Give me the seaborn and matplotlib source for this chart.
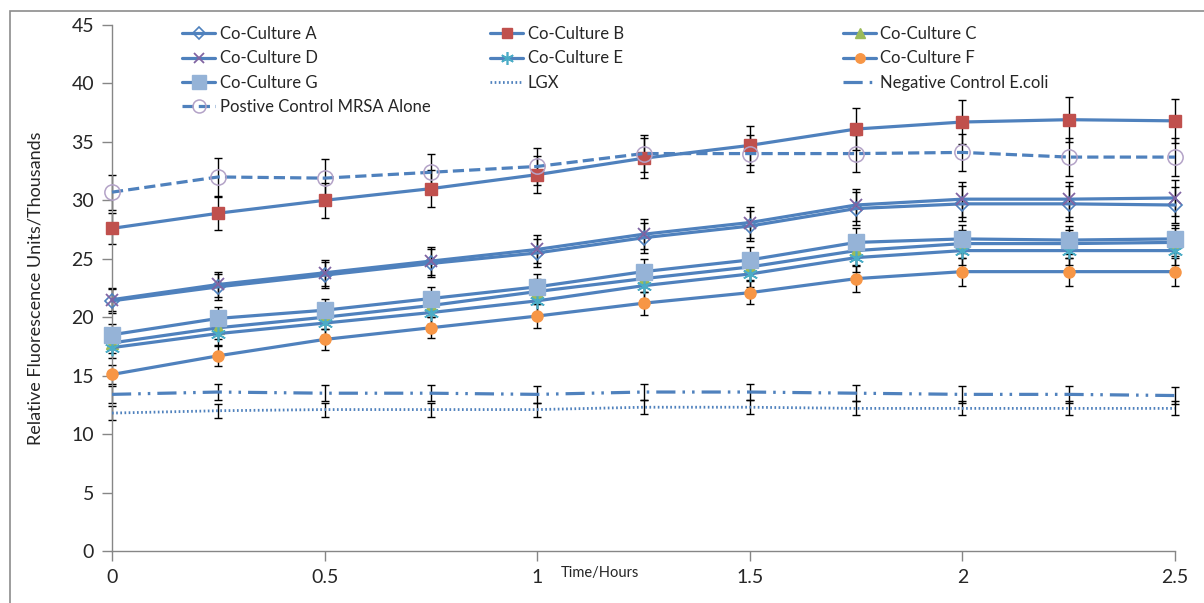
import numpy as np
import pandas as pd
import matplotlib
matplotlib.use("Agg")
import matplotlib.pyplot as plt
import seaborn as sns
from matplotlib.lines import Line2D
from matplotlib.patches import Rectangle

# ---------------- data ----------------
time = [0, 0.25, 0.5, 0.75, 1, 1.25, 1.5, 1.75, 2, 2.25, 2.5]

cc_a = [21.4, 22.6, 23.6, 24.6, 25.5, 26.8, 27.8, 29.3, 29.7, 29.7, 29.6]
cc_b = [27.6, 28.9, 30.0, 31.0, 32.2, 33.6, 34.7, 36.1, 36.7, 36.9, 36.8]
cc_c = [17.8, 19.1, 20.0, 21.0, 22.2, 23.3, 24.3, 25.7, 26.3, 26.3, 26.4]
cc_d = [21.5, 22.8, 23.8, 24.8, 25.8, 27.1, 28.1, 29.6, 30.1, 30.1, 30.2]
cc_e = [17.4, 18.6, 19.5, 20.4, 21.4, 22.7, 23.7, 25.1, 25.7, 25.7, 25.7]
cc_f = [15.1, 16.7, 18.1, 19.1, 20.1, 21.2, 22.1, 23.3, 23.9, 23.9, 23.9]
cc_g = [18.5, 19.9, 20.6, 21.6, 22.6, 23.9, 24.9, 26.4, 26.7, 26.6, 26.7]
lgx = [11.8, 12.0, 12.1, 12.1, 12.1, 12.3, 12.3, 12.2, 12.2, 12.2, 12.2]
neg = [13.4, 13.6, 13.5, 13.5, 13.4, 13.6, 13.6, 13.5, 13.4, 13.4, 13.3]
mrsa = [30.7, 32.0, 31.9, 32.4, 32.9, 34.0, 34.0, 34.0, 34.1, 33.7, 33.7]

err_a = [1.0, 1.1, 1.1, 1.2, 1.2, 1.3, 1.3, 1.4, 1.5, 1.5, 1.5]
err_b = [1.3, 1.4, 1.5, 1.6, 1.6, 1.7, 1.7, 1.8, 1.9, 1.9, 1.9]
err_c = [0.9, 1.0, 1.0, 1.0, 1.1, 1.1, 1.1, 1.2, 1.2, 1.2, 1.2]
err_d = [1.0, 1.1, 1.1, 1.2, 1.2, 1.3, 1.3, 1.4, 1.5, 1.5, 1.5]
err_e = [0.9, 1.0, 1.0, 1.0, 1.1, 1.1, 1.1, 1.2, 1.2, 1.2, 1.2]
err_f = [0.8, 0.85, 0.9, 0.9, 1.0, 1.0, 1.0, 1.1, 1.2, 1.2, 1.2]
err_g = [0.9, 1.0, 1.0, 1.0, 1.1, 1.1, 1.1, 1.2, 1.2, 1.2, 1.2]
err_lgx = [0.6, 0.6, 0.6, 0.6, 0.6, 0.6, 0.6, 0.6, 0.6, 0.6, 0.6]
err_neg = [0.7, 0.7, 0.7, 0.7, 0.7, 0.7, 0.7, 0.7, 0.7, 0.7, 0.7]
err_mrsa = [1.5, 1.6, 1.6, 1.6, 1.6, 1.6, 1.6, 1.6, 1.6, 1.6, 1.6]

labels = ["Co-Culture A", "Co-Culture B", "Co-Culture C", "Co-Culture D",
          "Co-Culture E", "Co-Culture F", "Co-Culture G", "LGX",
          "Negative Control E.coli", "Postive Control MRSA Alone"]
x_ticks = [0, 0.5, 1, 1.5, 2, 2.5]
y_ticks = [0, 5, 10, 15, 20, 25, 30, 35, 40, 45]

# ---------------- style ----------------
sns.set_theme(style="white")
plt.rcParams["font.family"] = ["Lato", "DejaVu Sans"]

LINE = "#4F81BD"
styles = {
    "Co-Culture A": dict(marker="D", ms=7, mfc="none", mec="#4F81BD", mew=1.2, ls="-"),
    "Co-Culture B": dict(marker="s", ms=9, mfc="#C0504D", mec="#C0504D", mew=1, ls="-"),
    "Co-Culture C": dict(marker="^", ms=8, mfc="#9BBB59", mec="#9BBB59", mew=1, ls="-"),
    "Co-Culture D": dict(marker="x", ms=8, mfc="#8064A2", mec="#8064A2", mew=1.3, ls="-"),
    "Co-Culture E": dict(marker=(6, 2, 0), ms=11, mfc="#4BACC6", mec="#4BACC6", mew=1.2, ls="-"),
    "Co-Culture F": dict(marker="o", ms=8, mfc="#F79646", mec="#F79646", mew=1, ls="-"),
    "Co-Culture G": dict(marker="s", ms=12, mfc="#95B3D7", mec="#95B3D7", mew=1, ls="-"),
    "LGX": dict(marker="", ms=0, mfc="none", mec="none", mew=0, ls=(0, (0.6, 0.9))),
    "Negative Control E.coli": dict(marker="", ms=0, mfc="none", mec="none", mew=0,
                                    ls=(0, (6, 2.2, 0.8, 2.2, 0.8, 2.2))),
    "Postive Control MRSA Alone": dict(marker="o", ms=11, mfc="none", mec="#B3A2C7", mew=1.1,
                                       ls=(0, (3.5, 1.6))),
}

series = dict(zip(labels, [cc_a, cc_b, cc_c, cc_d, cc_e, cc_f, cc_g, lgx, neg, mrsa]))
errors = dict(zip(labels, [err_a, err_b, err_c, err_d, err_e, err_f, err_g, err_lgx, err_neg, err_mrsa]))

fig = plt.figure(figsize=(12.04, 6.03), dpi=100)
ax = fig.add_axes([112 / 1204, 1 - 551 / 603, (1175 - 112) / 1204, (551 - 25) / 603])

# error bars
for lab in labels:
    ax.errorbar(time, series[lab], yerr=errors[lab], fmt="none", ecolor="black",
                elinewidth=1.0, capsize=3, capthick=1.0, zorder=2, clip_on=False)

# lines
handles = {}
for lab in labels:
    st = styles[lab]
    df = pd.DataFrame({"t": time, "v": series[lab]})
    lw = 2.0 if lab == "LGX" else 2.3
    sns.lineplot(data=df, x="t", y="v", ax=ax, color=LINE, linewidth=lw,
                 linestyle=st["ls"], marker=st["marker"] if st["marker"] else None,
                 markersize=st["ms"], markerfacecolor=st["mfc"], markeredgecolor=st["mec"],
                 markeredgewidth=st["mew"], zorder=3, clip_on=False, legend=False)
    handles[lab] = Line2D([], [], color=LINE, linewidth=lw, linestyle=st["ls"],
                          marker=st["marker"] if st["marker"] else None,
                          markersize=st["ms"] * 0.85, markerfacecolor=st["mfc"],
                          markeredgecolor=st["mec"], markeredgewidth=st["mew"])

ax.set_xlim(0, 2.5)
ax.set_ylim(0, 45)
ax.set_xticks(x_ticks)
ax.set_xticklabels([f"{t:g}" for t in x_ticks], fontsize=14)
ax.set_yticks(y_ticks)
ax.set_yticklabels([str(t) for t in y_ticks], fontsize=14)
ax.tick_params(axis="both", direction="out", length=7, width=1, color="#868686",
               left=True, bottom=True)
ax.tick_params(axis="x", pad=6)
ax.tick_params(axis="y", pad=6)
for s in ["top", "right"]:
    ax.spines[s].set_visible(False)
for s in ["left", "bottom"]:
    ax.spines[s].set_color("#868686")
    ax.spines[s].set_linewidth(1)
ax.set_xlabel("")
ax.set_ylabel("Relative Fluorescence Units/Thousands", fontsize=13, labelpad=20)
fig.text(600 / 1204, 1 - 573 / 603, "Time/Hours", fontsize=10.5, ha="center", va="center")

# legends, one per column
cols = [
    (["Co-Culture A", "Co-Culture D", "Co-Culture G", "Postive Control MRSA Alone"], 182),
    (["Co-Culture B", "Co-Culture E", "LGX"], 490),
    (["Co-Culture C", "Co-Culture F", "Negative Control E.coli"], 843),
]
for i, (labs, xpx) in enumerate(cols):
    leg = fig.legend([handles[l] for l in labs], labs, loc="upper left",
                     bbox_to_anchor=(xpx / 1204, 1 - 26 / 603), frameon=False,
                     fontsize=12, handlelength=2.0, handletextpad=0.25,
                     labelspacing=0.5, borderpad=0, borderaxespad=0)

# chart border
fig.patches.append(Rectangle((10 / 1204, -0.05), 1.1, 1 - 11 / 603 + 0.05,
                             transform=fig.transFigure, fill=False,
                             edgecolor="#8c8c8c", linewidth=1.2))

fig.savefig("out.png", dpi=100)
